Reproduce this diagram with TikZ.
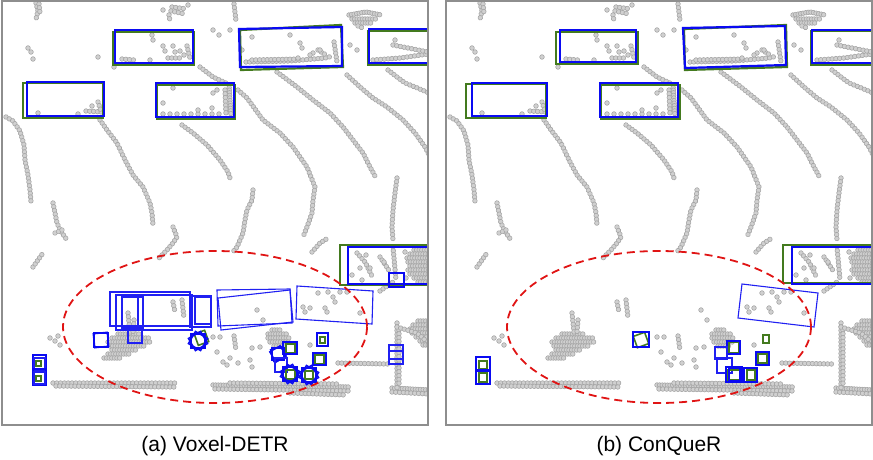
\documentclass[tikz,border=0pt]{standalone}
\usepackage{fontspec}
\newfontfamily\capfont{Liberation Sans}
\usepackage{tikz}
\usetikzlibrary{decorations.markings}
\definecolor{lidBlue}{HTML}{0A0AF2}
\definecolor{lidSoftBlue}{HTML}{2020F2}
\definecolor{lidGreen}{HTML}{437A1E}
\definecolor{lidRed}{HTML}{E01414}
\definecolor{lidDot}{HTML}{D0D0D0}
\definecolor{lidDotEdge}{HTML}{A6A6A6}
\definecolor{lidFrame}{HTML}{8E8E8E}

% the same scan is shown in both panels
\newcommand{\lidarscan}{%
  % far clusters
  \path[pts] (36,3) -- (38,11) -- (36,19);
  \path[pts] (39,4) -- (40,13);
  \path[pts] (172,7) -- (187,9);
  \path[pts] (171,11) -- (185,14);
  \path[pts] (169,15) -- (170,21);
  \path[pts] (234,4) -- (236,21);
  \path[dense] (349,15) -- (366,12) -- (381,15);
  \path[dense] (352,19) -- (378,19);
  \path[dense] (355,23) -- (372,23);
  \path[pts] (358,26) -- (363,28);
  \foreach \x/\y in {28/48, 31/52, 33/59, 98/57, 114/67, 163/10, 230/30,
                     213/30, 219/35, 350/45, 357/50, 188/5}
    \filldraw[dot] (\x,\y) circle (2.3pt);
  % returns inside the parked cars
  \path[pts] (122,59) -- (134,60);
  \path[pts] (168,58) -- (183,58);
  \path[pts] (187,46) -- (190,58);
  \path[pts] (246,62) -- (290,61) -- (325,58) -- (333,56);
  \path[pts] (252,60) -- (300,59);
  \path[pts] (334,42) -- (337,62);
  \path[pts] (318,50) -- (326,55);
  \path[pts] (373,60) -- (400,58) -- (428,54);
  \path[pts] (393,45) -- (428,52);
  \path[pts] (86,111) -- (102,112);
  \path[pts] (98,102) -- (101,111);
  \path[dense] (229,85) -- (231,116);
  \path[pts] (225,90) -- (226,115);
  \path[sparse] (163,114) -- (222,114);
  \foreach \x/\y in {152/35, 153/40, 163/46, 165/51, 173/46, 175/52, 150/60,
                     180/51, 184/55, 252/37, 242/50, 290/35, 300/43, 302/48,
                     313/53, 320/50, 298/58, 310/55, 395/40, 38/113, 78/114,
                     92/106, 217/90, 213/93, 173/88, 163/103, 212/108, 198/110}
    \filldraw[dot] (\x,\y) circle (2.3pt);
  % curb lines
  \path[pts] (6,117) -- (13,121) -- (20,131) -- (24,145) -- (25,160)
             -- (28,175) -- (30,190) -- (31,202);
  \path[pts] (53,203) -- (55,213) -- (57,223) -- (60,230) -- (67,240);
  \path[pts] (55,233) -- (62,230);
  \path[pts] (33,267) -- (43,253);
  \path[pts] (100,120) -- (107,130) -- (117,143) -- (125,160) -- (133,175)
             -- (143,187) -- (150,203) -- (152,213) -- (153,225);
  \path[pts] (200,67) -- (213,77) -- (228,84);
  \path[pts] (182,125) -- (193,133) -- (207,145) -- (220,160) -- (228,172)
             -- (231,181);
  \path[pts] (173,227) -- (177,237) -- (173,243) -- (167,250) -- (157,260);
  \path[pts] (238,90) -- (247,98) -- (263,120) -- (280,133) -- (293,147)
             -- (307,167) -- (315,187) -- (313,200) -- (312,213) -- (307,227)
             -- (303,237);
  \path[pts] (253,190) -- (252,200) -- (247,210) -- (245,220) -- (243,233)
             -- (237,247) -- (232,253);
  \path[pts] (312,252) -- (320,243) -- (328,238);
  \path[pts] (277,72) -- (297,87) -- (313,100) -- (330,113) -- (343,127)
             -- (353,140) -- (363,153) -- (370,167) -- (375,176);
  \path[pts] (347,75) -- (360,87) -- (373,98) -- (387,107) -- (403,120)
             -- (415,133) -- (425,147) -- (429,155);
  \path[pts] (388,70) -- (397,77) -- (405,83) -- (415,87) -- (429,93);
  \path[pts] (397,178) -- (395,193) -- (393,210) -- (392,227) -- (393,240);
  % objects near the ego car
  \path[pts] (53,383) -- (177,383);
  \path[pts] (56,386) -- (174,387);
  \path[dense] (213,385) -- (350,387);
  \path[pts] (215,389) -- (350,391);
  \path[pts] (230,383) -- (340,384);
  \path[pts] (290,393) -- (346,395);
  \path[dense] (392,388) -- (429,390);
  \path[pts] (392,392) -- (429,394);
  \path[pts] (338,363) -- (388,364);
  \path[pts] (397,323) -- (397,388);
  \path[pts] (399,330) -- (399,385);
  \foreach \y/\a/\b in {321/418/429, 325/413/429, 329/410/429, 333/412/429,
                        337/416/429, 341/420/429, 345/423/429}
    \path[dense] (\a,\y) -- (\b,\y);
  \path[pts] (397,327) -- (407,330) -- (417,333) -- (425,340);
  \path[pts] (380,291) -- (393,282);
  \foreach \y/\a/\b in {334/118/140, 338/112/150, 342/108/152, 346/110/145,
                        350/112/138, 354/108/130, 358/104/122}
    \path[dense] (\a,\y) -- (\b,\y);
  \path[pts] (128,313) -- (130,332);
  \path[pts] (134,320) -- (133,332);
  \path[pts] (173,302) -- (175,312);
  \path[pts] (182,300) -- (184,318);
  \path[pts] (234,336) -- (236,350);
  \foreach \y/\a/\b in {330/272/282, 334/268/288, 338/268/290, 342/270/289,
                        346/274/286}
    \path[dense] (\a,\y) -- (\b,\y);
  \foreach \x/\y in {50/338, 55/341, 60/345, 58/336, 213/337, 220/337, 252/348,
                     260/347, 223/362, 227/365, 238/363, 250/360, 252/367,
                     230/358, 310/345, 217/352, 257/310, 263/320, 303/307,
                     310/308, 305/312, 325/308, 327/312, 318/293, 328/292,
                     333/297, 335/302, 340/292, 347/292, 360/313}
    \filldraw[dot] (\x,\y) circle (2.3pt);
  % returns inside the car on the right
  \foreach \y/\a/\b in {250/414/429, 254/410/429, 258/407/429, 262/408/429,
                        266/410/429, 270/408/429, 274/410/429, 278/414/429,
                        282/418/429}
    \path[dense] (\a,\y) -- (\b,\y);
  \path[pts] (393,247) -- (396,280);
  \path[pts] (357,253) -- (365,262) -- (372,276);
  \path[pts] (380,257) -- (390,272);
  \foreach \x/\y in {360/268, 366/255, 370/268, 384/262, 405/252, 406/278,
                     352/275, 362/280}
    \filldraw[dot] (\x,\y) circle (2.3pt);
}

\begin{document}
\begin{tikzpicture}[
  x=1pt, y=-1pt,
  dot/.style={fill=lidDot, draw=lidDotEdge, line width=0.6pt},
  pts/.style={decoration={markings,
      mark=between positions 0 and 1 step 3.8pt with
      {\filldraw[dot] (0,0) circle (2.3pt);}}, decorate},
  dense/.style={decoration={markings,
      mark=between positions 0 and 1 step 2.6pt with
      {\filldraw[dot] (0,0) circle (2.3pt);}}, decorate},
  sparse/.style={decoration={markings,
      mark=between positions 0 and 1 step 7pt with
      {\filldraw[dot] (0,0) circle (2.3pt);}}, decorate},
  gt/.style={draw=lidGreen, line width=2.2pt},
  gtsm/.style={draw=lidGreen, line width=1.6pt},
  pred/.style={draw=lidBlue, line width=2.2pt},
  predsm/.style={draw=lidBlue, line width=1.5pt},
  predthin/.style={draw=lidSoftBlue, line width=1.1pt},
  roi/.style={draw=lidRed, line width=1.8pt, dash pattern=on 8pt off 5pt},
  frm/.style={draw=lidFrame, line width=1.2pt},
  caplbl/.style={font=\capfont\fontsize{21}{25}\selectfont, anchor=base,
                 inner sep=0pt},
]
\useasboundingbox (0,0) rectangle (873,460);

% ======================= (a) Voxel-DETR =================================
\begin{scope}
  \clip (2,1) rectangle (428,425);
  \lidarscan
  % parked cars
  \draw[gt] (113,32) rectangle (194,65);
  \draw[pred] (115,30) rectangle (193,63);
  \draw[gt] (240,30) -- (341,25) -- (343,67) -- (241,70) -- cycle;
  \draw[pred] (239,29) -- (342,27) -- (342,66) -- (240,67) -- cycle;
  \draw[gt] (368,31) rectangle (432,65);
  \draw[pred] (369,29) rectangle (432,63);
  \draw[gt] (23,83) rectangle (103,118);
  \draw[pred] (27,82) rectangle (104,116);
  \draw[gt] (157,85) rectangle (235,119);
  \draw[pred] (156,83) rectangle (234,117);
  \draw[gt] (340,245) rectangle (432,285);
  \draw[predsm] (348,247) rectangle (432,284);
  \draw[predsm] (389,273) rectangle (404,287);
  % false positives
  \draw[predthin] (110,292) rectangle (190,326);
  \draw[predthin] (116,295) rectangle (192,330);
  \draw[predthin] (122,297) rectangle (138,329);
  \draw[predthin] (122,297) rectangle (143,328);
  \draw[predthin] (190,296) rectangle (211,327);
  \draw[predthin] (195,297) rectangle (211,324);
  \draw[predthin] (217,290) -- (290,289) -- (292,323) -- (218,326) -- cycle;
  \draw[predthin] (218,298) -- (290,290) -- (293,322) -- (221,330) -- cycle;
  \draw[predthin] (297,286) -- (373,291) -- (372,324) -- (296,319) -- cycle;
  \draw[predthin] (128,330) rectangle (142,343);
  \draw[predthin] (389,345) rectangle (403,359);
  \draw[predthin] (389,351) rectangle (403,364);
  % pedestrians
  \foreach \a in {0,6}
    \draw[predsm, rotate around={\a:(101,340)}] (94,333) rectangle (108,347);
  \draw[gtsm, rotate around={20:(201,338)}] (196,332) rectangle (207,344);
  \foreach \a in {0,30,60}
    \draw[predsm, rotate around={\a:(198,341)}] (191,334) rectangle (205,348);
  \draw[gtsm] (36,361) rectangle (41,366);
  \draw[gtsm] (36,376) rectangle (41,381);
  \draw[predsm] (33,355) rectangle (46,371);
  \draw[predthin] (34,358) rectangle (45,370);
  \draw[predsm] (33,369) rectangle (46,385);
  \draw[predthin] (34,372) rectangle (45,384);
  \draw[gtsm] (320,337) rectangle (325,343);
  \draw[predsm] (317,333) rectangle (328,346);
  \draw[gtsm] (286,344) rectangle (295,353);
  \draw[predsm] (283,342) rectangle (297,354);
  \foreach \a in {0,15,30}
    \draw[predsm, rotate around={\a:(278,354)}] (272,348) rectangle (284,360);
  \draw[predthin] (275,358) rectangle (287,372);
  \draw[gtsm] (315,355) rectangle (324,364);
  \draw[predsm] (313,353) rectangle (326,365);
  \draw[gtsm] (286,370) rectangle (295,379);
  \foreach \a in {0,30,60}
    \draw[predsm, rotate around={\a:(290,374)}] (283,367) rectangle (297,381);
  \draw[gtsm] (305,371) rectangle (313,379);
  \foreach \a in {0,30,60}
    \draw[predsm, rotate around={\a:(309,375)}] (302,368) rectangle (316,382);
  \draw[roi] (215,327) ellipse [x radius=152, y radius=76];
\end{scope}
\draw[frm] (2,1) rectangle (428,425);
\node[caplbl] (capA) at (215,451) {(a) Voxel-DETR};

% ======================= (b) ConQueR ====================================
\begin{scope}[shift={(444,0)}]
  \clip (2,1) rectangle (428,425);
  \lidarscan
  % parked cars
  \draw[gt] (112,32) rectangle (194,64);
  \draw[pred] (116,30) rectangle (192,62);
  \draw[gt] (240,29) -- (342,25) -- (343,67) -- (241,70) -- cycle;
  \draw[pred] (239,28) -- (341,26) -- (342,65) -- (241,68) -- cycle;
  \draw[gt] (367,31) rectangle (432,65);
  \draw[pred] (368,30) rectangle (432,63);
  \draw[gt] (22,84) rectangle (102,118);
  \draw[pred] (28,83) rectangle (103,116);
  \draw[gt] (157,85) rectangle (236,119);
  \draw[pred] (156,83) rectangle (234,117);
  \draw[gt] (339,245) rectangle (432,283);
  \draw[predsm] (348,247) rectangle (432,284);
  % the only false positive
  \draw[predthin] (298,284) -- (374,293) -- (370,327) -- (294,318) -- cycle;
  % pedestrians
  \draw[gtsm, rotate around={20:(197,340)}] (191,334) rectangle (203,346);
  \draw[predsm] (189,332) rectangle (205,347);
  \draw[gtsm] (35,361) rectangle (43,369);
  \draw[gtsm] (35,373) rectangle (43,382);
  \draw[predsm] (32,357) rectangle (46,371);
  \draw[predsm] (32,370) rectangle (46,384);
  \draw[gtsm] (319,335) rectangle (325,343);
  \draw[gtsm] (285,342) rectangle (295,353);
  \draw[predsm] (283,341) rectangle (296,354);
  \draw[predthin] (271,347) rectangle (283,359);
  \draw[predthin] (273,358) rectangle (288,373);
  \draw[gtsm] (284,370) rectangle (296,380);
  \draw[predsm] (282,367) rectangle (298,382);
  \draw[predsm] (285,368) rectangle (296,381);
  \draw[gtsm] (303,370) rectangle (311,380);
  \draw[predsm] (300,368) rectangle (313,382);
  \draw[gtsm] (314,354) rectangle (323,363);
  \draw[predsm] (312,352) rectangle (325,365);
  \draw[roi] (215,327) ellipse [x radius=152, y radius=76];
\end{scope}
\draw[frm] (446,1) rectangle (872,425);
\node[caplbl] (capB) at (659,451) {(b) ConQueR};
\end{tikzpicture}
\end{document}
